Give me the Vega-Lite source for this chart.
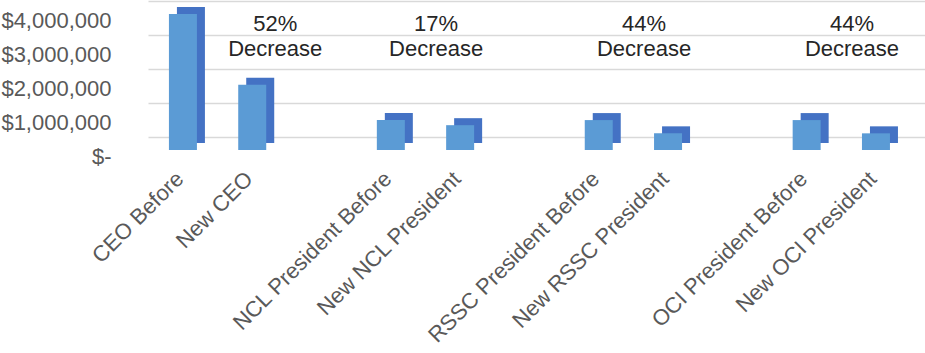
{
  "$schema": "https://vega.github.io/schema/vega-lite/v6.json",
  "width": 778,
  "height": 136,
  "padding": {"left": 0, "top": 7, "right": 0, "bottom": 0},
  "background": "white",
  "config": {"view": {"stroke": null}, "font": "Liberation Sans"},
  "datasets": {
    "pay": [
      {"category": "CEO Before", "pay": 4000000},
      {"category": "New CEO", "pay": 1920000},
      {"category": "NCL President Before", "pay": 880000},
      {"category": "New NCL President", "pay": 730000},
      {"category": "RSSC President Before", "pay": 880000},
      {"category": "New RSSC President", "pay": 490000},
      {"category": "OCI President Before", "pay": 880000},
      {"category": "New OCI President", "pay": 490000}
    ],
    "notes": [
      {"category": "New CEO", "note": "52%\nDecrease", "side": "right"},
      {"category": "New NCL President", "note": "17%\nDecrease", "side": "left"},
      {"category": "New RSSC President", "note": "44%\nDecrease", "side": "left"},
      {"category": "New OCI President", "note": "44%\nDecrease", "side": "left"}
    ]
  },
  "encoding": {
    "x": {
      "field": "category",
      "type": "nominal",
      "scale": {
        "domain": ["CEO Before", "New CEO", " ", "NCL President Before", "New NCL President", "  ", "RSSC President Before", "New RSSC President", "   ", "OCI President Before", "New OCI President"],
        "paddingInner": 0.6,
        "paddingOuter": 0.413,
        "align": 0.368
      },
      "axis": {
        "title": null,
        "labelAngle": -45,
        "labelAlign": "right",
        "labelBaseline": "middle",
        "labelFont": "Liberation Sans",
        "labelFontSize": 22,
        "labelColor": "#595959",
        "labelPadding": 25,
        "labelOffset": -3,
        "labelLimit": 400,
        "labelOverlap": false,
        "domain": false,
        "ticks": false,
        "grid": false
      }
    }
  },
  "layer": [
    {
      "data": {"name": "pay"},
      "mark": {"type": "bar", "color": "#4472c4", "width": 28, "xOffset": 8, "x2Offset": 8, "yOffset": -7, "y2Offset": -7},
      "encoding": {
        "y": {
          "field": "pay",
          "type": "quantitative",
          "scale": {"domain": [0, 4000000], "nice": false},
          "axis": {
            "title": null,
            "values": [0, 1000000, 2000000, 3000000, 4000000],
            "domain": false,
            "ticks": false,
            "labelFont": "Liberation Sans",
            "labelFontSize": 22,
            "labelColor": "#595959",
            "labelPadding": 37,
            "labelOverlap": false,
            "gridColor": "#d9d9d9",
            "gridWidth": 1.5,
            "tickOffset": -13,
            "labelOffset": 19,
            "labelExpr": "datum.value == 0 ? '$-' : '$' + format(datum.value, ',')"
          }
        }
      }
    },
    {
      "data": {"name": "pay"},
      "mark": {"type": "bar", "color": "#5b9bd5", "width": 28},
      "encoding": {
        "y": {
          "field": "pay",
          "type": "quantitative",
          "scale": {"domain": [0, 4000000], "nice": false},
          "axis": {
            "title": null,
            "values": [0, 1000000, 2000000, 3000000, 4000000],
            "domain": false,
            "ticks": false,
            "labelFont": "Liberation Sans",
            "labelFontSize": 22,
            "labelColor": "#595959",
            "labelPadding": 37,
            "labelOverlap": false,
            "gridColor": "#d9d9d9",
            "gridWidth": 1.5,
            "tickOffset": -13,
            "labelOffset": 19,
            "labelExpr": "datum.value == 0 ? '$-' : '$' + format(datum.value, ',')"
          }
        }
      }
    },
    {
      "data": {"name": "notes"},
      "transform": [{"filter": "datum.side == 'right'"}],
      "mark": {"type": "text", "align": "center", "baseline": "top", "lineBreak": "\n", "lineHeight": 25, "fontSize": 22, "font": "Liberation Sans", "color": "#262626", "dx": 23},
      "encoding": {
        "y": {
          "datum": 4000000,
          "type": "quantitative",
          "scale": {"domain": [0, 4000000], "nice": false},
          "axis": {
            "title": null,
            "values": [0, 1000000, 2000000, 3000000, 4000000],
            "domain": false,
            "ticks": false,
            "labelFont": "Liberation Sans",
            "labelFontSize": 22,
            "labelColor": "#595959",
            "labelPadding": 37,
            "labelOverlap": false,
            "gridColor": "#d9d9d9",
            "gridWidth": 1.5,
            "tickOffset": -13,
            "labelOffset": 19,
            "labelExpr": "datum.value == 0 ? '$-' : '$' + format(datum.value, ',')"
          }
        },
        "text": {"field": "note", "type": "nominal"}
      }
    },
    {
      "data": {"name": "notes"},
      "transform": [{"filter": "datum.side == 'left'"}],
      "mark": {"type": "text", "align": "center", "baseline": "top", "lineBreak": "\n", "lineHeight": 25, "fontSize": 22, "font": "Liberation Sans", "color": "#262626", "dx": -24},
      "encoding": {
        "y": {
          "datum": 4000000,
          "type": "quantitative",
          "scale": {"domain": [0, 4000000], "nice": false},
          "axis": {
            "title": null,
            "values": [0, 1000000, 2000000, 3000000, 4000000],
            "domain": false,
            "ticks": false,
            "labelFont": "Liberation Sans",
            "labelFontSize": 22,
            "labelColor": "#595959",
            "labelPadding": 37,
            "labelOverlap": false,
            "gridColor": "#d9d9d9",
            "gridWidth": 1.5,
            "tickOffset": -13,
            "labelOffset": 19,
            "labelExpr": "datum.value == 0 ? '$-' : '$' + format(datum.value, ',')"
          }
        },
        "text": {"field": "note", "type": "nominal"}
      }
    }
  ]
}
